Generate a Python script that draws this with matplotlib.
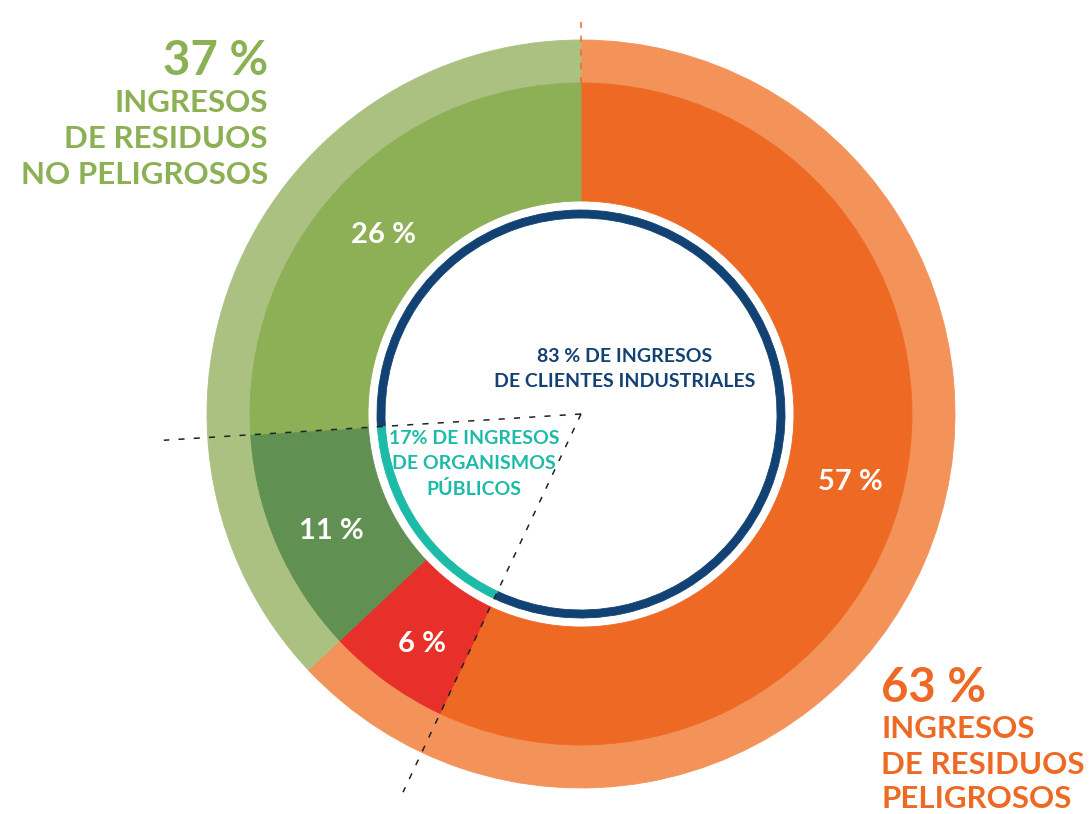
import numpy as np
import matplotlib
matplotlib.use("Agg")
import matplotlib.pyplot as plt

# Datos del gráfico (porcentajes de ingresos)
exterior_vals = [63, 37]            # peligrosos / no peligrosos
exterior_cols = ['#F3935A', '#ABC182']

medio_vals = [57, 6, 11, 26]
medio_cols = ['#EE6A24', '#E8302A', '#609152', '#8DAF55']

interior_vals = [83, 17]            # clientes industriales / organismos públicos
interior_cols = ['#124274', '#1CBBA8']

txt_ext_peligrosos = ['63 %', 'INGRESOS', 'DE RESIDUOS', 'PELIGROSOS']
txt_ext_no_peligrosos = ['37 %', 'INGRESOS', 'DE RESIDUOS', 'NO PELIGROSOS']
txt_industriales = '83 % DE INGRESOS\nDE CLIENTES INDUSTRIALES'
txt_publicos = '17% DE INGRESOS\nDE ORGANISMOS\nPÚBLICOS'

plt.rcParams['font.family'] = ['Lato', 'DejaVu Sans']

W, H = 1090, 814
fig = plt.figure(figsize=(W / 100, H / 100), dpi=100)
ax = fig.add_axes([0, 0, 1, 1])

cx, cy = 581, H - 414
centro = (cx, cy)
wp = dict(linewidth=0.6)

# Anillo exterior
w, _ = ax.pie(exterior_vals, colors=exterior_cols, radius=374, center=centro,
              startangle=90, counterclock=False,
              wedgeprops=dict(width=43, **wp))
for p, c in zip(w, exterior_cols):
    p.set_edgecolor(c)

# Anillo medio con porcentajes
w, _, autot = ax.pie(medio_vals, colors=medio_cols, radius=331, center=centro,
                     startangle=90, counterclock=False,
                     wedgeprops=dict(width=118, **wp),
                     autopct='%.0f %%', pctdistance=274 / 331,
                     textprops=dict(color='white', fontsize=21, fontweight='bold'))
for p, c in zip(w, medio_cols):
    p.set_edgecolor(c)
for t in autot:
    t.set_va('center_baseline')
    x0, y0 = t.get_position()
    t.set_position((x0 + 2, y0 - 6))

# Anillo interior fino (industriales / públicos)
inicio_pub = sum(medio_vals[:3])
w, _ = ax.pie(interior_vals, colors=interior_cols, radius=204, center=centro,
              startangle=90 - 3.6 * inicio_pub, counterclock=False,
              wedgeprops=dict(width=8, **wp))
for p, c in zip(w, interior_cols):
    p.set_edgecolor(c)

# Líneas discontinuas que delimitan el sector público
for a in [3.6 * medio_vals[0], 3.6 * inicio_pub]:
    t = np.radians(90 - a)
    ax.plot([cx, cx + 418 * np.cos(t)], [cy, cy + 418 * np.sin(t)],
            color='#222222', lw=1.1, dashes=(4, 6), zorder=5)

# Línea naranja superior
ax.plot([cx, cx], [cy + 331, cy + 397], color='#EE6A24', lw=1.1,
        dashes=(4, 5), zorder=5)

# Textos exteriores
ax.text(268, H - 57, txt_ext_no_peligrosos[0], color='#8CB155', fontsize=34,
        fontweight='bold', ha='right', va='center_baseline')
for s, yy in zip(txt_ext_no_peligrosos[1:], [101, 136, 172]):
    ax.text(268, H - yy, s, color='#8CB155', fontsize=22.5, fontweight='bold',
            ha='right', va='center_baseline')

ax.text(881, H - 684, txt_ext_peligrosos[0], color='#EE6A24', fontsize=34,
        fontweight='bold', ha='left', va='center_baseline')
for s, yy in zip(txt_ext_peligrosos[1:], [726, 762, 797]):
    ax.text(881, H - yy, s, color='#EE6A24', fontsize=22.5, fontweight='bold',
            ha='left', va='center_baseline')

# Textos interiores
ax.text(625, H - 369, txt_industriales, color='#124274', fontsize=14,
        fontweight='bold', ha='center', va='center', linespacing=1.6)
ax.text(474, H - 464, txt_publicos, color='#1CBBA8', fontsize=14,
        fontweight='bold', ha='center', va='center', linespacing=1.55)

ax.set_xlim(0, W)
ax.set_ylim(0, H)
ax.set_aspect('equal')
ax.axis('off')

fig.savefig('out.png', dpi=100)
